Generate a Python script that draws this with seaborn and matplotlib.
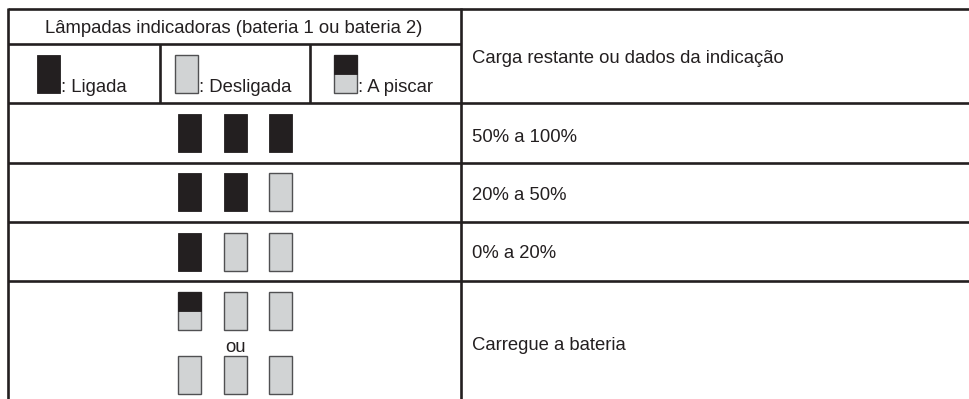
import matplotlib
matplotlib.use("Agg")
import matplotlib.pyplot as plt
import seaborn as sns

# --- table content ---
header_title = "Lâmpadas indicadoras (bateria 1 ou bateria 2)"
header_right = "Carga restante ou dados da indicação"
legend_states = ["on", "off", "blink"]
legend_labels = [": Ligada", ": Desligada", ": A piscar"]
row_labels = ["50% a 100%", "20% a 50%", "0% a 20%", "Carregue a bateria"]
row_lamps_1 = ["on", "on", "on"]
row_lamps_2 = ["on", "on", "off"]
row_lamps_3 = ["on", "off", "off"]
row_lamps_4a = ["blink", "off", "off"]
row_lamps_4b = ["off", "off", "off"]
or_word = "ou"

# --- layout (pixel coordinates) ---
W, H = 969, 399
INK = "#231f20"
LIGHT = "#d1d3d4"
EDGE = "#505052"
LAMP_W, LAMP_H = 23, 38
LAMP_X = [178, 224, 269]

sns.set_theme(style="white")
plt.rcParams["font.family"] = ["Liberation Sans", "DejaVu Sans"]

fig = plt.figure(figsize=(W / 100, H / 100), dpi=100)
ax = fig.add_axes([0, 0, 1, 1])
ax.set_xlim(0, W)
ax.set_ylim(H, 0)
ax.axis("off")


def lamp(x, top, state):
    if state == "on":
        ax.bar(x, LAMP_H, width=LAMP_W, bottom=top, align="edge",
               color=INK, edgecolor=INK, linewidth=0.6)
    elif state == "off":
        ax.bar(x, LAMP_H, width=LAMP_W, bottom=top, align="edge",
               color=LIGHT, edgecolor=EDGE, linewidth=1.0)
    else:
        half = LAMP_H / 2
        ax.bar(x, LAMP_H, width=LAMP_W, bottom=top, align="edge",
               color=LIGHT, edgecolor=EDGE, linewidth=1.0)
        ax.bar(x, half, width=LAMP_W, bottom=top, align="edge",
               color=INK, edgecolor=INK, linewidth=0.6)


# grid lines
lw = 1.9
for y in [9, 103, 163, 222, 281]:
    ax.plot([8, W], [y, y], color=INK, lw=lw, solid_capstyle="butt")
ax.plot([8, 461], [44, 44], color=INK, lw=lw, solid_capstyle="butt")
for x in [8, 461]:
    ax.plot([x, x], [8, H], color=INK, lw=lw, solid_capstyle="butt")
for x in [160, 310]:
    ax.plot([x, x], [44, 103], color=INK, lw=lw, solid_capstyle="butt")

fs = 13.3
txt = dict(fontsize=fs, color=INK, va="baseline")
ax.text(234, 33, header_title, ha="center", **txt)
ax.text(472, 63, header_right, ha="left", **txt)

# legend cells
legend_x = [37, 175, 334]
for x, st, lab in zip(legend_x, legend_states, legend_labels):
    lamp(x, 55, st)
    ax.text(x + LAMP_W + 1, 92, lab, ha="left", **txt)

# status rows
rows = [row_lamps_1, row_lamps_2, row_lamps_3]
tops = [114, 173, 233]
label_y = [142, 200, 258]
for states, top, lab, ly in zip(rows, tops, row_labels[:3], label_y):
    for x, st in zip(LAMP_X, states):
        lamp(x, top, st)
    ax.text(472, ly, lab, ha="left", **txt)

for x, st in zip(LAMP_X, row_lamps_4a):
    lamp(x, 292, st)
for x, st in zip(LAMP_X, row_lamps_4b):
    lamp(x, 356, st)
ax.text(LAMP_X[1] + LAMP_W / 2, 352, or_word, ha="center", **txt)
ax.text(472, 350, row_labels[3], ha="left", **txt)

fig.savefig("out.png", dpi=100, facecolor="white")
